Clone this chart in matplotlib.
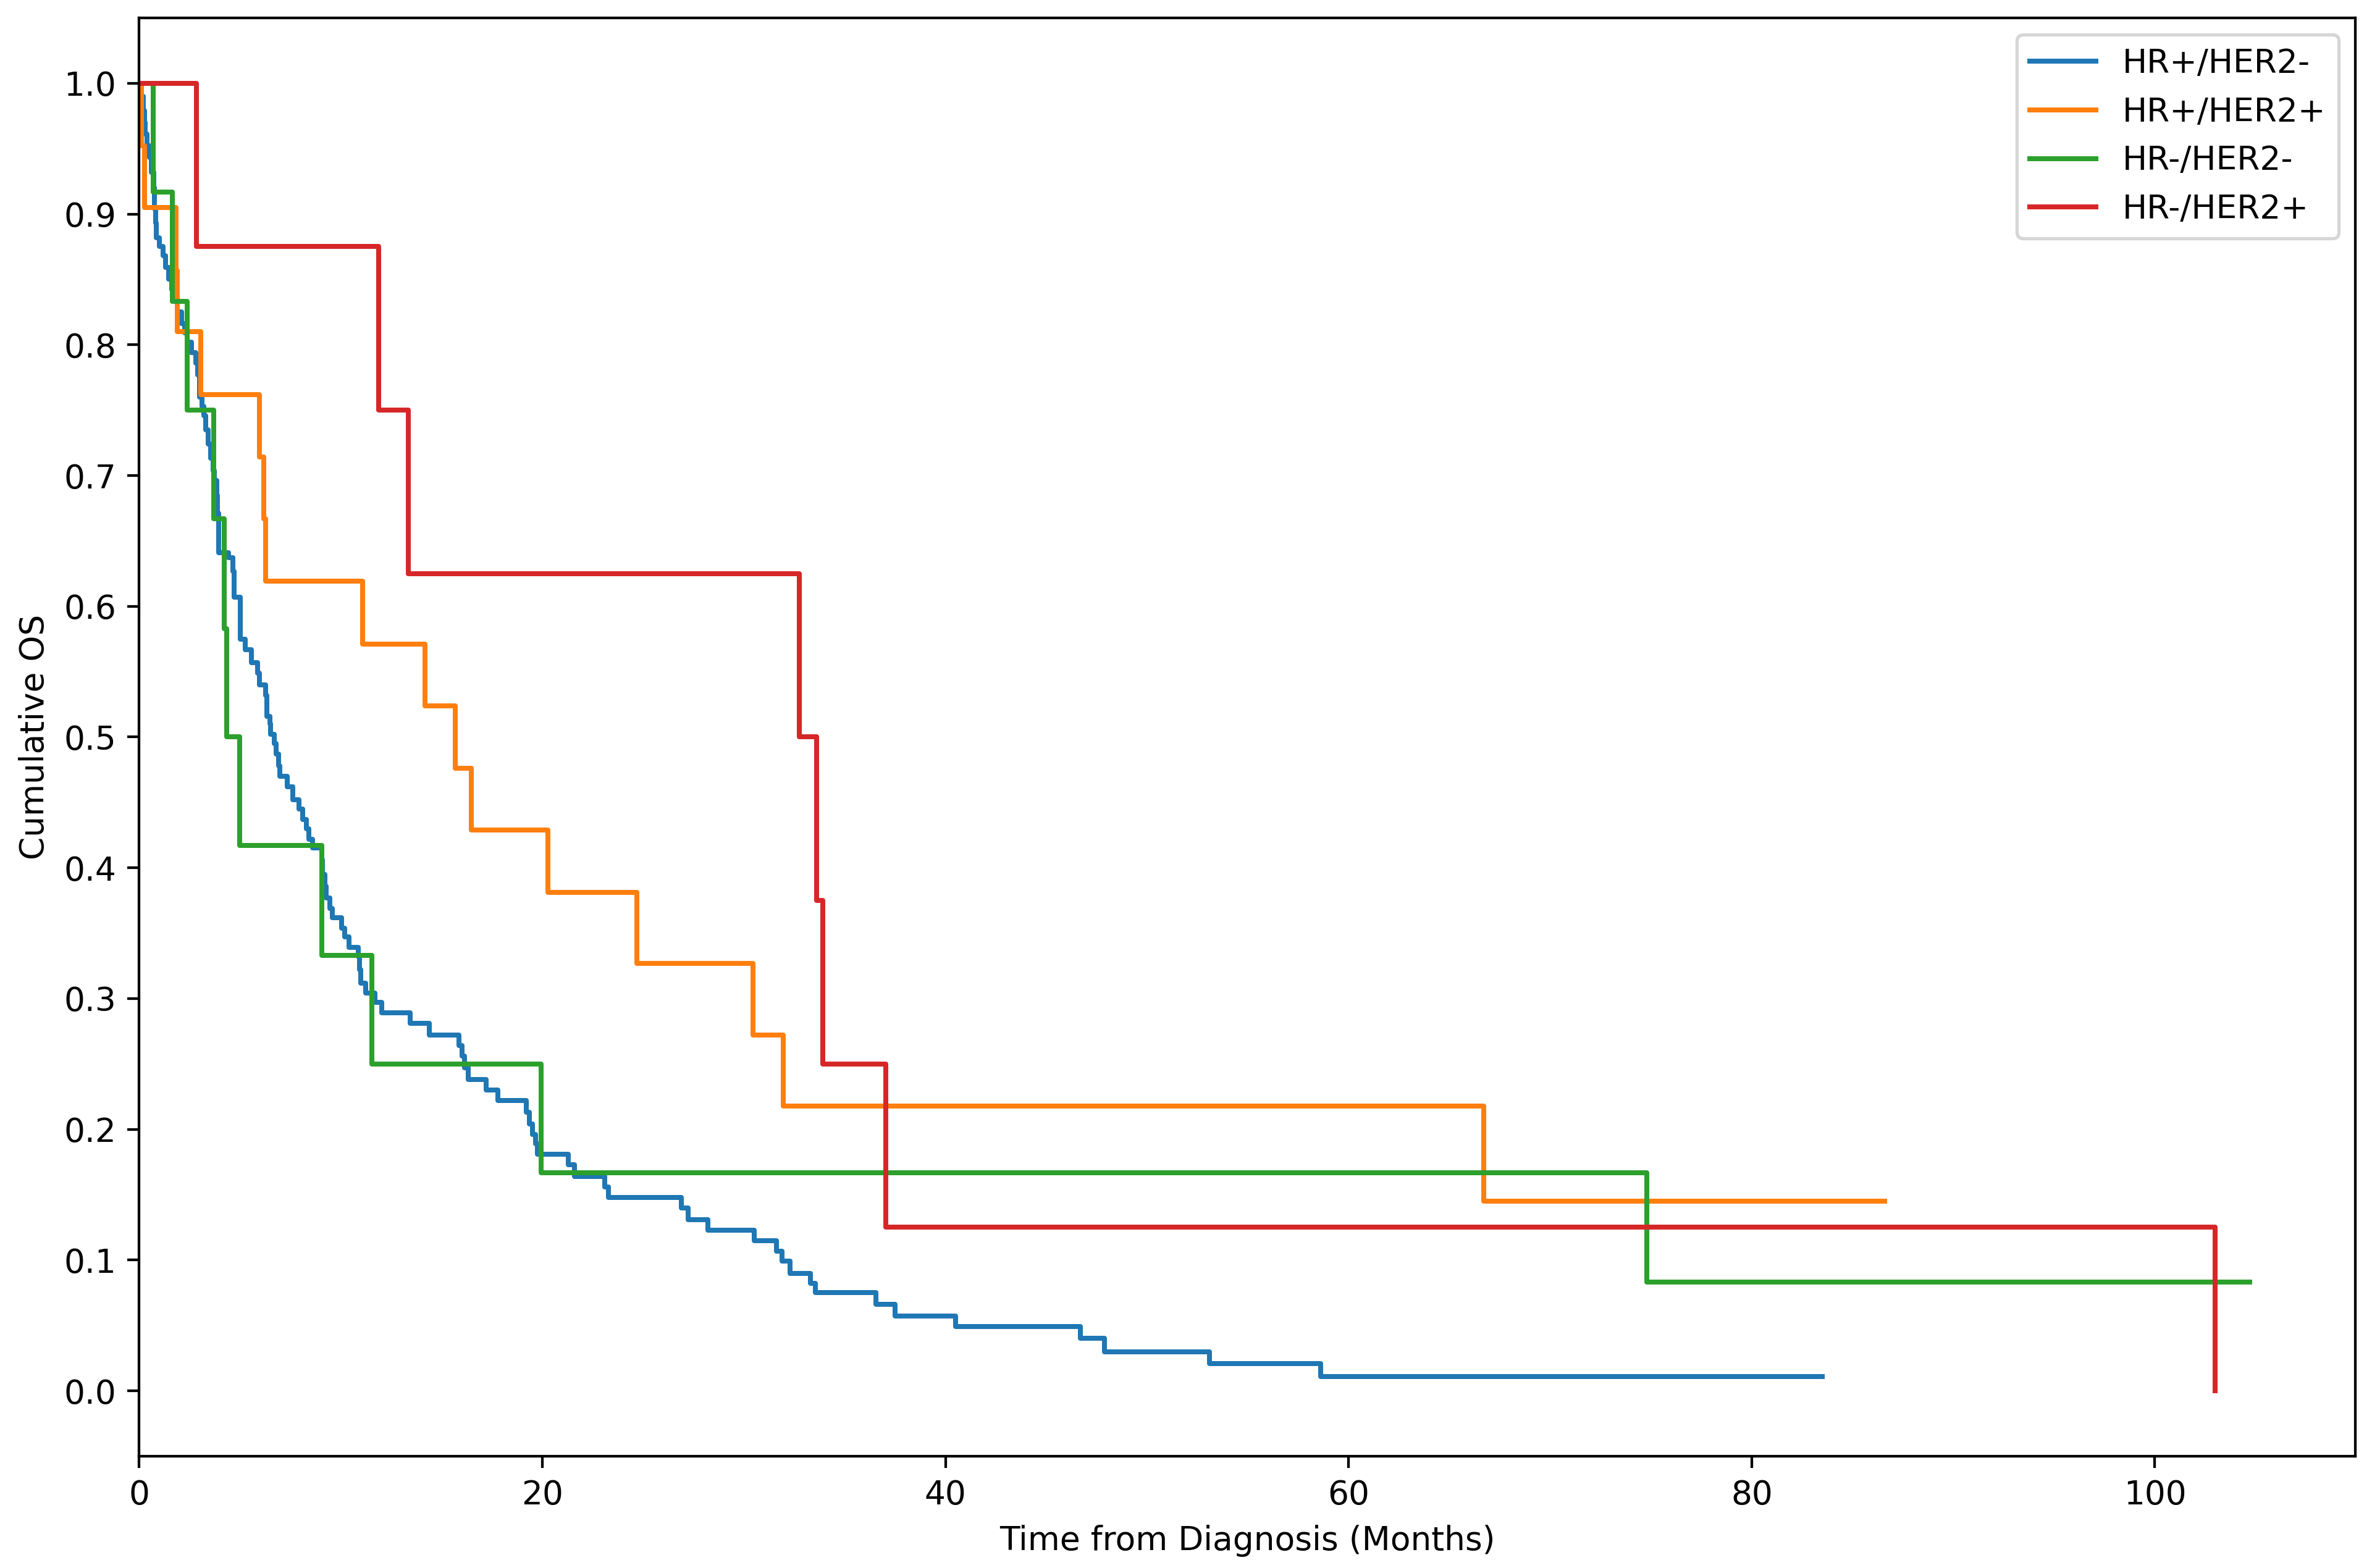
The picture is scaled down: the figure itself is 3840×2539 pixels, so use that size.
import matplotlib
matplotlib.use("Agg")
import matplotlib.pyplot as plt

# ---- data (event times in months, survival after each step) ----
labels = ["HR+/HER2-", "HR+/HER2+", "HR-/HER2-", "HR-/HER2+"]
colors = ["#1f77b4", "#ff7f0e", "#2ca02c", "#d62728"]

blue_t = [0, 0.1, 0.2, 0.25, 0.28, 0.4, 0.5, 0.6, 0.71, 0.76, 0.8, 0.86, 1.0, 1.17, 1.3,
          1.47, 1.6, 1.68, 1.9, 2.09, 2.25, 2.39, 2.6, 2.8, 2.9, 3.0, 3.1, 3.21, 3.3, 3.42,
          3.55, 3.65, 3.72, 3.85, 3.88, 3.93, 4.44, 4.65, 4.7, 5.0, 5.26, 5.56, 5.87, 5.97,
          6.28, 6.33, 6.48, 6.53, 6.7, 6.79, 6.9, 6.99, 7.35, 7.61, 7.91, 8.12, 8.3, 8.43,
          8.6, 9.05, 9.1, 9.2, 9.28, 9.45, 9.58, 10.05, 10.2, 10.4, 10.87, 10.92, 10.99,
          11.22, 11.7, 12.04, 13.45, 14.39, 15.85, 16.03, 16.15, 16.33, 17.2, 17.8, 19.2,
          19.35, 19.5, 19.65, 19.75, 21.3, 21.6, 23.1, 23.27, 26.9, 27.24, 28.2, 30.5,
          31.6, 31.9, 32.3, 33.3, 33.55, 36.55, 37.5, 40.5, 46.7, 47.9, 53.1, 58.6, 83.5]
blue_s = [1.0, 0.99, 0.979, 0.97, 0.961, 0.952, 0.943, 0.932, 0.92, 0.904, 0.893, 0.882,
          0.875, 0.868, 0.859, 0.850, 0.842, 0.834, 0.825, 0.816, 0.809, 0.802, 0.794,
          0.786, 0.777, 0.76, 0.753, 0.746, 0.735, 0.724, 0.713, 0.704, 0.696, 0.685,
          0.671, 0.641, 0.637, 0.627, 0.607, 0.575, 0.567, 0.557, 0.549, 0.54, 0.532,
          0.516, 0.51, 0.502, 0.495, 0.487, 0.478, 0.47, 0.462, 0.452, 0.445, 0.437,
          0.43, 0.422, 0.415, 0.406, 0.395, 0.386, 0.377, 0.369, 0.362, 0.354, 0.347,
          0.339, 0.332, 0.322, 0.312, 0.304, 0.297, 0.289, 0.281, 0.272, 0.264, 0.256,
          0.247, 0.238, 0.230, 0.222, 0.213, 0.204, 0.196, 0.189, 0.181, 0.173, 0.164,
          0.156, 0.148, 0.140, 0.131, 0.123, 0.115, 0.107, 0.099, 0.090, 0.082, 0.075,
          0.066, 0.057, 0.049, 0.040, 0.030, 0.021, 0.011, 0.011]

orange_t = [0, 0.1, 0.25, 1.83, 1.9, 3.05, 5.95, 6.17, 6.27, 11.07, 14.17, 15.68, 16.46,
            20.27, 24.68, 30.45, 31.95, 66.7, 86.6]
orange_s = [1.0, 0.952, 0.905, 0.857, 0.810, 0.762, 0.714, 0.667, 0.619, 0.571, 0.524,
            0.476, 0.429, 0.381, 0.327, 0.272, 0.218, 0.145, 0.145]

green_t = [0, 0.68, 1.65, 2.37, 3.69, 4.22, 4.34, 4.98, 9.07, 11.55, 19.94, 74.8, 104.7]
green_s = [1.0, 0.917, 0.833, 0.75, 0.667, 0.583, 0.5, 0.417, 0.333, 0.25, 0.1667,
           0.0833, 0.0833]

red_t = [0, 2.83, 11.87, 13.35, 32.75, 33.6, 33.9, 37.05, 103.0]
red_s = [1.0, 0.875, 0.75, 0.625, 0.5, 0.375, 0.25, 0.125, 0.0]

series = [(blue_t, blue_s), (orange_t, orange_s), (green_t, green_s), (red_t, red_s)]

fig = plt.figure(figsize=(10, 6.612), dpi=384)
ax = fig.add_axes([0.0587, 0.0713, 0.9343, 0.9173])

for (t, s), lab, c in zip(series, labels, colors):
    ax.plot(t, s, drawstyle="steps-post", color=c, linewidth=1.5, label=lab)

ax.set_xlim(left=0, right=109.95)
ax.set_ylim(-0.05, 1.05)
ax.set_yticks([i / 10 for i in range(11)])
ax.set_xticks([0, 20, 40, 60, 80, 100])
ax.set_xlabel("Time from Diagnosis (Months)")
ax.set_ylabel("Cumulative OS")
ax.legend(loc="upper right")

fig.savefig("out.png", dpi=384)
